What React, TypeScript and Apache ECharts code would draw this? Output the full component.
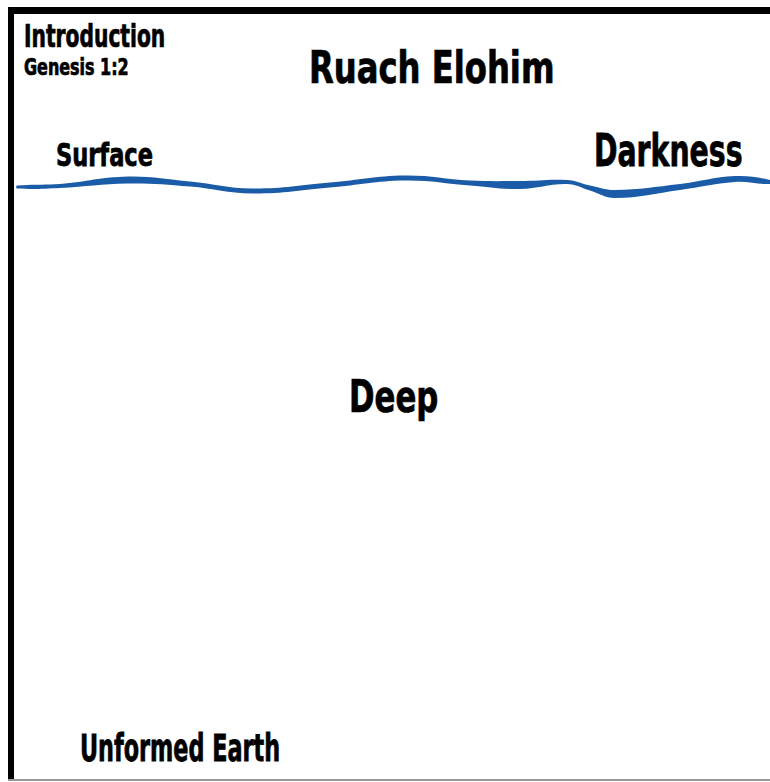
import React, { useEffect, useRef } from "react";
import * as echarts from "echarts";

const waveX = [17, 60, 128, 190, 252, 330, 405, 470, 520, 567, 590, 615, 680, 735, 770];
const waveY = [187, 186, 180, 184, 191, 185, 178, 183, 185, 182, 188, 194, 187, 179, 182];
const waveThickness = [3, 4, 7, 5, 5, 5, 5, 5, 8, 4, 5, 8, 6, 6, 4];

const labels = ["Introduction", "Genesis 1:2", "Ruach Elohim", "Surface", "Darkness", "Deep", "Unformed Earth"];

const FONT = "'Liberation Sans Narrow', 'DejaVu Sans Condensed', 'DejaVu Sans', sans-serif";

export default function App() {
  const ref = useRef<HTMLDivElement>(null);
  useEffect(() => {
    document.body.style.margin = "0";
    const chart = echarts.init(ref.current!, null, { renderer: "svg" });
    const txt = (text: string, x: number, baseline: number, size: number, sx: number, sy: number) => ({
      type: "text",
      x,
      y: baseline + 4 * sy,
      scaleX: sx,
      scaleY: sy,
      style: {
        text,
        x: 0,
        y: 0,
        fill: "#000",
        stroke: "#000",
        lineWidth: 0.7,
        font: `bold ${size}px ${FONT}`,
        textAlign: "left",
        textVerticalAlign: "bottom",
      },
    });
    chart.setOption({
      animation: false,
      backgroundColor: "#ffffff",
      grid: { left: 0, right: 0, top: 0, bottom: 0 },
      xAxis: { type: "value", min: 0, max: 770, show: false },
      yAxis: { type: "value", min: 0, max: 782, inverse: true, show: false },
      series: [
        {
          type: "custom",
          data: [0],
          renderItem: (params: any, api: any) => {
            const top = waveX.map((x, i) => api.coord([x, waveY[i] - waveThickness[i] / 2]));
            const bottom = waveX
              .map((x, i) => api.coord([x, waveY[i] + waveThickness[i] / 2]))
              .reverse();
            return {
              type: "polygon",
              shape: { points: top.concat(bottom), smooth: 0.4 },
              style: { fill: "#1a5ca8" },
            };
          },
        },
      ],
      graphic: [
        { type: "rect", shape: { x: 8, y: 7, width: 6, height: 773 }, style: { fill: "#000" } },
        { type: "rect", shape: { x: 8, y: 7, width: 762, height: 7 }, style: { fill: "#000" } },
        { type: "rect", shape: { x: 8, y: 779, width: 762, height: 2 }, style: { fill: "#999" } },
        txt(labels[0], 24, 47, 30, 0.75, 1.06),
        txt(labels[1], 24, 75, 22, 0.806, 1.06),
        txt(labels[2], 309, 86, 42, 0.853, 1.07),
        txt(labels[3], 56, 167, 30, 0.835, 1.09),
        txt(labels[4], 594, 168, 40, 0.787, 1.1),
        txt(labels[5], 349, 414, 42, 0.815, 1.07),
        txt(labels[6], 80, 762, 34, 0.73, 1.09),
      ],
    });
    return () => chart.dispose();
  }, []);
  return <div ref={ref} style={{ width: 770, height: 782 }} />;
}
